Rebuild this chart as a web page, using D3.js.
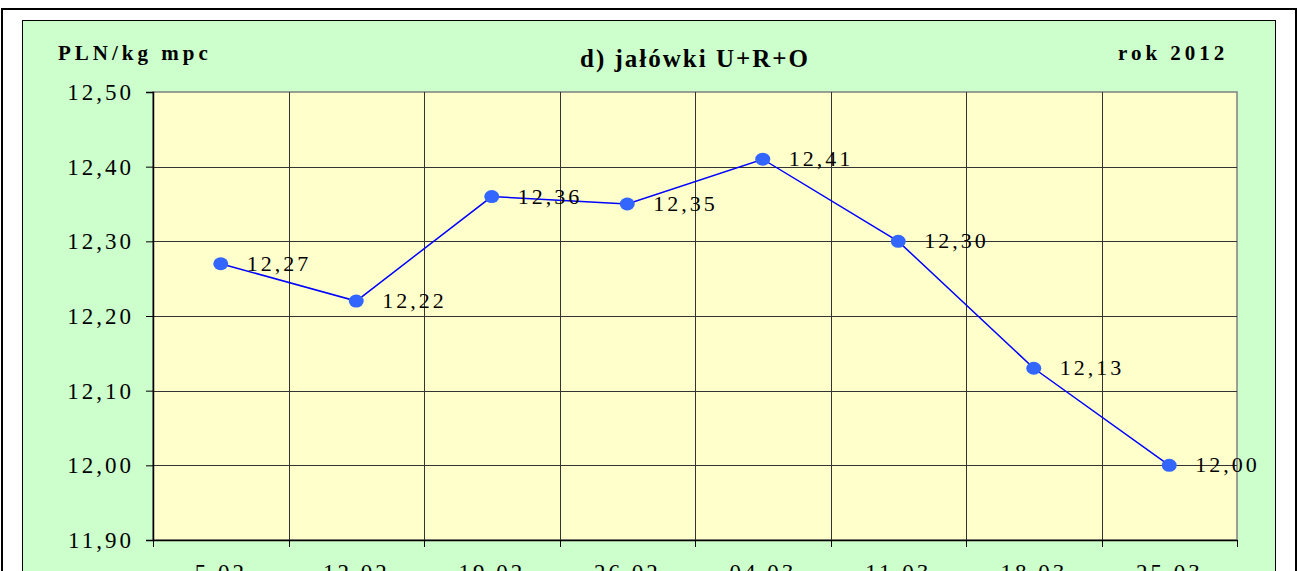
<!DOCTYPE html>
<html>
<head>
<meta charset="utf-8">
<script src="https://cdn.jsdelivr.net/npm/d3@7"></script>
<style>
html,body{margin:0;padding:0;background:#fff;overflow:hidden;}
svg{display:block;}
svg text{font-family:"Liberation Serif","Times New Roman",Times,serif;}
</style>
</head>
<body>
<svg id="chart" width="1298" height="571"></svg>
<script>
const categories = ["5.02","12.02","19.02","26.02","04.03","11.03","18.03","25.03"];
const values = [12.27, 12.22, 12.36, 12.35, 12.41, 12.30, 12.13, 12.00];
const labels = ["12,27","12,22","12,36","12,35","12,41","12,30","12,13","12,00"];
const yTicks = [11.9, 12.0, 12.1, 12.2, 12.3, 12.4, 12.5];
const unitLabel = "PLN/kg mpc";
const titleText = "d) jałówki U+R+O";
const yearText = "rok 2012";

const FONT = '"Liberation Serif","Times New Roman",Times,serif';
const svg = d3.select("#chart");
const plot = {left:153, top:92, right:1237, bottom:540};

svg.append("rect").attr("x",2).attr("y",9).attr("width",1294).attr("height",580)
  .attr("fill","#fff").attr("stroke","#000").attr("stroke-width",2);
svg.append("rect").attr("x",22.5).attr("y",20.5).attr("width",1253).attr("height",570)
  .attr("fill","#CCFFCC").attr("stroke","#000").attr("stroke-width",1);

const x = d3.scaleBand().domain(categories).range([plot.left, plot.right]);
const y = d3.scaleLinear().domain([11.9, 12.5]).range([plot.bottom, plot.top]);

svg.append("rect").attr("x",plot.left).attr("y",plot.top)
  .attr("width",plot.right-plot.left).attr("height",plot.bottom-plot.top)
  .attr("fill","#FFFFCC").attr("stroke","#808080").attr("stroke-width",1.5);

svg.append("g").selectAll("line").data(yTicks.slice(1,-1)).join("line")
  .attr("x1",plot.left).attr("x2",plot.right)
  .attr("y1",d=>Math.round(y(d))+0.5).attr("y2",d=>Math.round(y(d))+0.5)
  .attr("stroke","#333").attr("stroke-width",1);
svg.append("g").selectAll("line").data(categories.slice(1)).join("line")
  .attr("x1",d=>Math.round(x(d))+0.5).attr("x2",d=>Math.round(x(d))+0.5)
  .attr("y1",plot.top).attr("y2",plot.bottom)
  .attr("stroke","#333").attr("stroke-width",1);

const yAxis = d3.axisLeft(y).tickValues(yTicks).tickSize(7).tickPadding(12)
  .tickFormat(d=>d3.format(".2f")(d).replace(".",","));
const gy = svg.append("g").attr("transform",`translate(${plot.left},0)`).call(yAxis);
gy.attr("font-family",null).attr("font-size",null);
gy.select(".domain").attr("stroke","#000").attr("stroke-width",1.5);
gy.selectAll(".tick line").attr("stroke","#000");
gy.selectAll(".tick text").style("font-family",FONT)
  .attr("font-size",23).attr("fill","#000").attr("letter-spacing","3px");

const xAxis = d3.axisBottom(x).tickSize(0).tickPadding(24);
const gx = svg.append("g").attr("transform",`translate(0,${plot.bottom})`).call(xAxis);
gx.attr("font-family",null).attr("font-size",null);
gx.select(".domain").attr("stroke","#000").attr("stroke-width",1.5);
gx.selectAll(".tick text").style("font-family",FONT)
  .attr("font-size",23).attr("fill","#000").attr("letter-spacing","3px");
svg.append("g").selectAll("line").data(categories.concat(["end"])).join("line")
  .attr("x1",(d,i)=>Math.round(plot.left + i*x.bandwidth())+0.5)
  .attr("x2",(d,i)=>Math.round(plot.left + i*x.bandwidth())+0.5)
  .attr("y1",plot.bottom).attr("y2",plot.bottom+7)
  .attr("stroke","#000");

const line = d3.line().x((d,i)=>x(categories[i])+x.bandwidth()/2).y(d=>y(d));
svg.append("path").datum(values).attr("d",line)
  .attr("fill","none").attr("stroke","#0000FF").attr("stroke-width",1.5);

svg.append("g").selectAll("ellipse").data(values).join("ellipse")
  .attr("cx",(d,i)=>x(categories[i])+x.bandwidth()/2)
  .attr("cy",d=>y(d))
  .attr("rx",7.5).attr("ry",6.5)
  .attr("fill","#3366FF");

svg.append("g").selectAll("text").data(values).join("text")
  .attr("x",(d,i)=>x(categories[i])+x.bandwidth()/2+26)
  .attr("y",d=>y(d)+7)
  .style("font-family",FONT)
  .attr("font-size",22).attr("letter-spacing","3px").attr("fill","#000")
  .text((d,i)=>labels[i]);

svg.append("text").attr("x",58).attr("y",60)
  .style("font-family",FONT).attr("font-weight","bold")
  .attr("font-size",21).attr("letter-spacing","4px").text(unitLabel);
svg.append("text").attr("x",695).attr("y",67).attr("text-anchor","middle")
  .style("font-family",FONT).attr("font-weight","bold")
  .attr("font-size",25).attr("letter-spacing","2px").text(titleText);
svg.append("text").attr("x",1118).attr("y",60)
  .style("font-family",FONT).attr("font-weight","bold")
  .attr("font-size",21).attr("letter-spacing","4px").text(yearText);
</script>
</body>
</html>
